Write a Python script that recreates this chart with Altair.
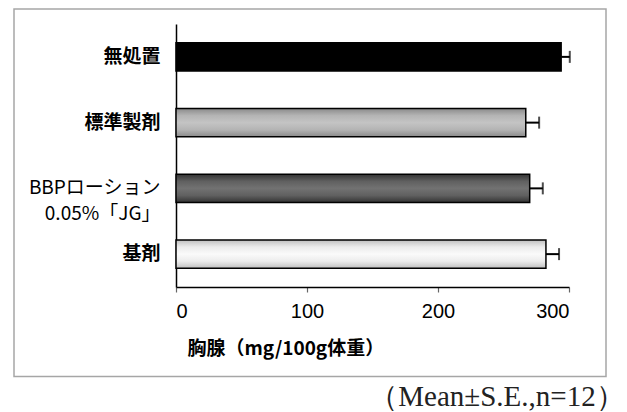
import altair as alt
import pandas as pd

# Thymus weight per treatment group (mg / 100 g body weight), mean and S.E.
groups = ["無処置", "標準製剤", "BBPローション|0.05%「JG」\u3000", "基剤"]
means = [294.0, 267.0, 270.0, 282.4]
errors = [6.6, 10.2, 10.0, 10.0]

df = pd.DataFrame({"group": groups, "mean": means, "err": errors})
df["hi"] = df["mean"] + df["err"]


def shade(edge, mid, centre):
    # vertical cylinder-like shading across the bar thickness
    return {
        "gradient": "linear", "x1": 0, "y1": 0, "x2": 0, "y2": 1,
        "stops": [
            {"offset": 0.0, "color": edge},
            {"offset": 0.25, "color": mid},
            {"offset": 0.5, "color": centre},
            {"offset": 0.75, "color": mid},
            {"offset": 1.0, "color": edge},
        ],
    }


fills = {
    groups[0]: "#000000",
    groups[1]: shade("#8a8a8a", "#b4b4b4", "#c4c4c4"),
    groups[2]: shade("#333333", "#606060", "#727272"),
    groups[3]: shade("#c0c0c0", "#ececec", "#fafafa"),
}

FONT = "Noto Sans CJK JP"

y_enc = alt.Y(
    "group:N",
    sort=groups,
    scale=alt.Scale(paddingInner=0.57, paddingOuter=0.285),
    axis=alt.Axis(
        title=None,
        ticks=False,
        domainColor="#000000",
        domainWidth=1.5,
        labelFont=FONT,
        labelFontSize=19,
        labelColor="#000000",
        labelPadding=16,
        labelLineHeight=26,
        labelFontWeight=alt.ExprRef(
            expr="indexof(datum.value, 'BBP') == 0 ? 'normal' : 'bold'"
        ),
        labelExpr="split(datum.value, '|')",
    ),
)

x_scale = alt.Scale(domain=[0, 300], nice=False)
x_axis = alt.Axis(
    title="胸腺（mg/100g体重）",
    values=[0, 100, 200, 300],
    grid=False,
    domainColor="#000000",
    domainWidth=1.5,
    tickColor="#666666",
    tickSize=5,
    tickWidth=1.2,
    labelFont="Liberation Sans",
    labelFontSize=20,
    labelColor="#000000",
    labelPadding=9,
    titleFont=FONT,
    titleFontSize=19,
    titleFontWeight="bold",
    titleColor="#000000",
    titleAnchor="start",
    titleAlign="left",
    titleBaseline="middle",
    titleX=11,
    titleY=61,
)

base = alt.Chart(df)

bars = [
    base.transform_filter(alt.datum.group == g)
    .mark_bar(color=fills[g], stroke="#000000", strokeWidth=1.5)
    .encode(x=alt.X("mean:Q", scale=x_scale, axis=x_axis), y=y_enc)
    for g in groups
]

whisker = base.mark_rule(color="#000000", strokeWidth=2).encode(
    x="mean:Q", x2="hi:Q", y=alt.Y("group:N", sort=groups)
)
caps = base.mark_tick(color="#000000", thickness=2, size=12).encode(
    x="hi:Q", y=alt.Y("group:N", sort=groups)
)

# outer border drawn around the whole figure
frame = alt.Chart(pd.DataFrame({"k": [0]})).mark_rect(
    fill=None, stroke="#a6a6a6", strokeWidth=1.5, clip=False
).encode(
    x=alt.value(-162), x2=alt.value(430), y=alt.value(-15), y2=alt.value(352.5)
)

note = alt.Chart(pd.DataFrame({"t": ["（Mean±S.E.,n=12）"]})).mark_text(
    font="Liberation Serif", fontSize=29, align="center", baseline="middle",
    color="#222222", clip=False,
).encode(text="t:N", x=alt.value(321), y=alt.value(373))

chart = (
    alt.layer(frame, *bars, whisker, caps, note)
    .properties(
        width=393,
        height=263,
        autosize="none",
        padding={"left": 176, "top": 24, "right": 58, "bottom": 125},
        background="#ffffff",
    )
    .configure_view(strokeWidth=0)
)

chart.save("out.html", embed_options={"renderer": "svg", "actions": False})
